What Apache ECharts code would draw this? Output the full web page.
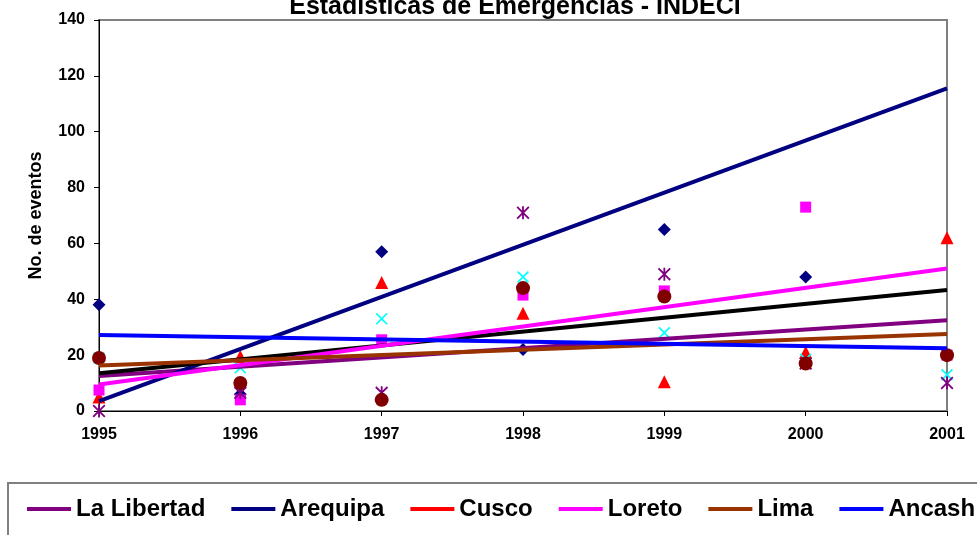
<!DOCTYPE html>
<html>
<head>
<meta charset="utf-8">
<script src="https://cdn.jsdelivr.net/npm/echarts@6/dist/echarts.min.js"></script>
<style>
  html, body { margin: 0; padding: 0; background: #fff; }
  #chart { width: 977px; height: 535px; }
</style>
</head>
<body>
<div id="chart"></div>
<script>
const FONT = "'Liberation Sans', Arial, sans-serif";

const years = [1995, 1996, 1997, 1998, 1999, 2000, 2001];
const provinces = ["La Libertad", "Arequipa", "Cusco", "Loreto", "Lima", "Ancash"];

// eventos por año (Arequipa 2001 queda fuera del eje)
const laLibertad = [0, 6.5, 6.5, 71, 49, 17, 10];
const arequipa = [38, 6, 57, 22, 65, 48, 182];
const cusco = [5, 19.5, 46, 35, 10.5, 21, 62];
const loreto = [7.5, 4, 25.5, 41.5, 43, 73, 20];
const lima = [19, 10, 4, 44, 41, 17, 20];
const ancash = [19, 15.5, 33, 48, 28, 18.5, 13];

// líneas de tendencia: valor en 1995 y en 2001
const trendStart = [12.5, 3.5, 13.5, 9.5, 16.3, 27.2];
const trendEnd = [32.5, 115.5, 43.3, 51, 27.6, 22.5];

const legendColors = ["#800080", "#000080", "#FF0000", "#FF00FF", "#993300", "#0000FF"];
const trendColors = ["#800080", "#000080", "#000000", "#FF00FF", "#993300", "#0000FF"];
const markerColors = ["#800080", "#000080", "#FF0000", "#FF00FF", "#800000", "#00FFFF"];

const xMark = "path://M0,1 L1,0 L5,4 L9,0 L10,1 L6,5 L10,9 L9,10 L5,6 L1,10 L0,9 L4,5 Z";
const starMark = xMark + " M4.3,0 L5.7,0 L5.7,10 L4.3,10 Z";
const markers = [
    { symbol: starMark, size: 13 },
    { symbol: "diamond", size: 13 },
    { symbol: "triangle", size: 13 },
    { symbol: "rect", size: 11 },
    { symbol: "circle", size: 14 },
    { symbol: xMark, size: 12 }
];
const values = [laLibertad, arequipa, cusco, loreto, lima, ancash];
const drawOrder = [1, 2, 3, 5, 0, 4];

const series = [];
drawOrder.forEach((i) => {
    series.push({
        name: provinces[i],
        type: "scatter",
        symbol: markers[i].symbol,
        symbolSize: markers[i].size,
        itemStyle: { color: markerColors[i], opacity: 1 },
        data: years.map((y, k) => [y, values[i][k]]),
        clip: true,
        z: 3
    });
});
provinces.forEach((p, i) => {
    series.push({
        name: "Tendencia " + p,
        type: "line",
        symbol: "none",
        lineStyle: { color: trendColors[i], width: 4 },
        data: [[years[0], trendStart[i]], [years[years.length - 1], trendEnd[i]]],
        silent: true,
        z: 4
    });
});

const chart = echarts.init(document.getElementById("chart"));
chart.setOption({
    animation: false,
    backgroundColor: "#fff",
    grid: {
        left: 99, right: 30, top: 20, bottom: 124,
        show: true, borderColor: "#808080", borderWidth: 2
    },
    xAxis: {
        type: "value",
        min: 1995, max: 2001, interval: 1,
        axisLine: { lineStyle: { color: "#000", width: 1 } },
        axisTick: { length: 5, lineStyle: { color: "#000" } },
        axisLabel: {
            margin: 16,
            formatter: (v) => String(v),
            color: "#000", fontWeight: "bold", fontSize: 16, fontFamily: FONT
        },
        splitLine: { show: false }
    },
    yAxis: {
        type: "value",
        min: 0, max: 140, interval: 20,
        name: "No. de eventos",
        nameLocation: "middle",
        nameGap: 54,
        nameTextStyle: { color: "#000", fontWeight: "bold", fontSize: 18, fontFamily: FONT },
        axisLine: { show: true, lineStyle: { color: "#000", width: 1 } },
        axisTick: { show: true, length: 5, lineStyle: { color: "#000" } },
        axisLabel: {
            margin: 14,
            color: "#000", fontWeight: "bold", fontSize: 16, fontFamily: FONT
        },
        splitLine: { show: false }
    },
    legend: {
        left: 22, top: 492, width: 1400,
        icon: "rect",
        itemWidth: 44, itemHeight: 4, itemGap: 26,
        selectedMode: false,
        textStyle: { color: "#000", fontWeight: "bold", fontSize: 24, fontFamily: FONT },
        data: provinces.map((p, i) => ({ name: p, itemStyle: { color: legendColors[i], opacity: 1 } }))
    },
    graphic: [
        {
            type: "rect",
            shape: { x: 8, y: 483, width: 1000, height: 100 },
            style: { fill: "none", stroke: "#808080", lineWidth: 2 },
            silent: true
        },
        {
            type: "text",
            x: 515, y: 20,
            style: {
                text: "Estadísticas de Emergencias - INDECI",
                font: "bold 25px " + FONT,
                fill: "#000",
                textAlign: "center",
                textVerticalAlign: "bottom"
            },
            silent: true
        }
    ],
    series: series
});
</script>
</body>
</html>
